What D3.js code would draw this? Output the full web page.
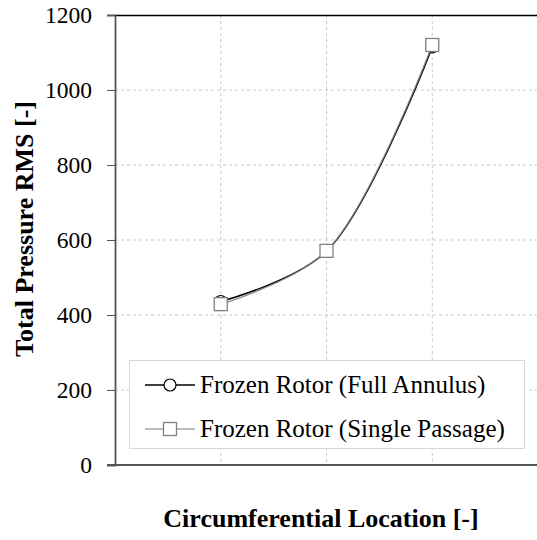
<!DOCTYPE html>
<html>
<head>
<meta charset="utf-8">
<script src="https://cdn.jsdelivr.net/npm/d3@7"></script>
<style>
  html, body { margin: 0; padding: 0; background: #fff; }
  svg { display: block; }
  svg text { font-family: "Liberation Serif", "Times New Roman", "DejaVu Serif", serif; }
</style>
</head>
<body>
<svg id="chart" width="537" height="540"></svg>
<script>
// Measurement locations around the circumference
const locations = [1, 2, 3];
// Total pressure RMS for each model
const fullAnnulus = [436, 570, 1115];
const singlePassage = [429, 571, 1120];
const seriesNames = ["Frozen Rotor (Full Annulus)", "Frozen Rotor (Single Passage)"];
const yTicks = [0, 200, 400, 600, 800, 1000, 1200];

const svg = d3.select("#chart");
const W = 537;
const x = d3.scaleLinear().domain([0, 4]).range([115, 538]);
const y = d3.scaleLinear().domain([0, 1200]).range([465, 15]);
const serif = '"Liberation Serif", "Times New Roman", serif';

// Grid lines
const grid = svg.append("g");
grid.selectAll("line.h").data(yTicks.filter(d => d > 0 && d < 1200)).join("line")
  .attr("x1", x(0)).attr("x2", W).attr("y1", d => y(d)).attr("y2", d => y(d))
  .attr("stroke", "#c8c8c8").attr("stroke-width", 1).attr("stroke-dasharray", "3,3");
grid.selectAll("line.v").data(locations).join("line")
  .attr("x1", d => x(d)).attr("x2", d => x(d)).attr("y1", y(1200)).attr("y2", y(0))
  .attr("stroke", "#c8c8c8").attr("stroke-width", 1).attr("stroke-dasharray", "3,3");

// Top frame line
svg.append("line").attr("x1", x(0)).attr("x2", W).attr("y1", y(1200) + 0.5).attr("y2", y(1200) + 0.5)
  .attr("stroke", "#000").attr("stroke-width", 1.5);

// Y axis
const yAxis = d3.axisLeft(y).tickValues(yTicks).tickFormat(d3.format("d")).tickSize(8).tickPadding(15);
const ya = svg.append("g").attr("transform", `translate(${x(0)},0)`).call(yAxis);
ya.attr("font-family", null).attr("font-size", null);
ya.select(".domain").attr("stroke", "#555").attr("stroke-width", 1.8);
ya.selectAll(".tick line").attr("stroke", "#555").attr("stroke-width", 1);
ya.selectAll(".tick text").style("font-family", serif).style("font-size", "23.5px").attr("fill", "#000");

// X axis (no labels)
svg.append("line").attr("x1", x(0) - 8).attr("x2", W).attr("y1", y(0)).attr("y2", y(0))
  .attr("stroke", "#555").attr("stroke-width", 1.8);

// Series lines (smoothed)
const line = d3.line().x(d => x(d[0])).y(d => y(d[1])).curve(d3.curveCatmullRom.alpha(0.5));
const faPts = locations.map((l, i) => [l, fullAnnulus[i]]);
const spPts = locations.map((l, i) => [l, singlePassage[i]]);

svg.append("path").datum(faPts).attr("d", line).attr("fill", "none")
  .attr("stroke", "#000").attr("stroke-width", 1.5);
svg.selectAll("circle.fa").data(faPts).join("circle").attr("class", "fa")
  .attr("cx", d => x(d[0])).attr("cy", d => y(d[1])).attr("r", 6)
  .attr("fill", "#fff").attr("stroke", "#000").attr("stroke-width", 1.2);

svg.append("path").datum(spPts).attr("d", line).attr("fill", "none")
  .attr("stroke", "#808080").attr("stroke-width", 1.2);
svg.selectAll("rect.sp").data(spPts).join("rect").attr("class", "sp")
  .attr("x", d => x(d[0]) - 6.5).attr("y", d => y(d[1]) - 6.5)
  .attr("width", 13).attr("height", 13)
  .attr("fill", "#fff").attr("stroke", "#808080").attr("stroke-width", 1.3);

// Legend
const lg = svg.append("g");
lg.append("rect").attr("x", 129.5).attr("y", 360.5).attr("width", 395).attr("height", 88)
  .attr("fill", "#fff").attr("stroke", "#d8d8d8").attr("stroke-width", 1);
const rows = [385, 429];
seriesNames.forEach((name, i) => {
  const cy = rows[i];
  const col = i === 0 ? "#000" : "#808080";
  lg.append("line").attr("x1", 145).attr("x2", 195).attr("y1", cy).attr("y2", cy)
    .attr("stroke", col).attr("stroke-width", i === 0 ? 1.5 : 1.2);
  if (i === 0) {
    lg.append("circle").attr("cx", 170).attr("cy", cy).attr("r", 6)
      .attr("fill", "#fff").attr("stroke", "#000").attr("stroke-width", 1.2);
  } else {
    lg.append("rect").attr("x", 163.5).attr("y", cy - 6.5).attr("width", 13).attr("height", 13)
      .attr("fill", "#fff").attr("stroke", "#808080").attr("stroke-width", 1.3);
  }
  lg.append("text").attr("x", 200).attr("y", cy + 8)
    .style("font-family", serif).style("font-size", "25px").attr("fill", "#000").text(name);
});

// Axis titles
svg.append("text").attr("transform", "translate(33,229) rotate(-90)")
  .attr("text-anchor", "middle").style("font-family", serif).attr("font-weight", "bold")
  .style("font-size", "26px").attr("fill", "#000").text("Total Pressure RMS [-]");
svg.append("text").attr("x", 321).attr("y", 527)
  .attr("text-anchor", "middle").style("font-family", serif).attr("font-weight", "bold")
  .style("font-size", "26px").attr("fill", "#000").text("Circumferential Location [-]");
</script>
</body>
</html>
